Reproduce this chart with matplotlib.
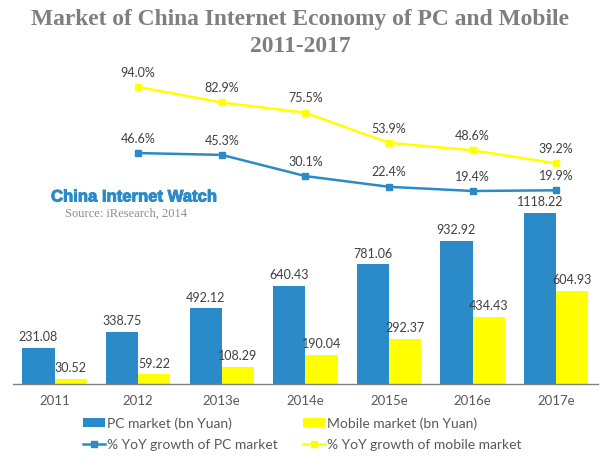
import matplotlib
matplotlib.use("Agg")
import matplotlib.pyplot as plt
import matplotlib.patheffects as pe
import numpy as np

categories = ["2011", "2012", "2013e", "2014e", "2015e", "2016e", "2017e"]
pc_market = [231.08, 338.75, 492.12, 640.43, 781.06, 932.92, 1118.22]
mobile_market = [30.52, 59.22, 108.29, 190.04, 292.37, 434.43, 604.93]
growth_categories = ["2012", "2013e", "2014e", "2015e", "2016e", "2017e"]
pc_growth = [46.6, 45.3, 30.1, 22.4, 19.4, 19.9]
mobile_growth = [94.0, 82.9, 75.5, 53.9, 48.6, 39.2]

BLUE = "#2A8BC8"
YELLOW = "#FFFF00"
FONT = ["Lato", "DejaVu Sans"]
W, H = 600, 466
LABEL_SIZE = 9.0

fig = plt.figure(figsize=(6, 4.66), dpi=100)
left, right, top, base = 12.7, 598, 60, 383.5
ax = fig.add_axes([left / W, (H - base) / H, (right - left) / W, (base - top) / H])
x = np.arange(len(categories))
bw = 0.385
ax.bar(x - bw / 2, pc_market, bw, color=BLUE, label="PC market (bn Yuan)")
ax.bar(x + bw / 2, mobile_market, bw, color=YELLOW, label="Mobile market (bn Yuan)")
ax.set_xlim(-0.5, 6.5)
ax.set_ylim(0, (base - top) / 0.1525)
ax.set_yticks([])
ax.set_xticks(x, categories, family=FONT, fontsize=9.5, color="#595959")
ax.tick_params(axis="x", length=0, pad=8)
for s in ["top", "left", "right"]:
    ax.spines[s].set_visible(False)
ax.spines["bottom"].set_color("#808080")
ax.spines["bottom"].set_linewidth(1.0)

for xi, v in zip(x, pc_market):
    ax.annotate(f"{v:.2f}", (xi - bw / 2, v), xytext=(0, 3.5), textcoords="offset points",
                ha="center", va="bottom", family=FONT, fontsize=LABEL_SIZE, color="#404040")
for xi, v in zip(x, mobile_market):
    ax.annotate(f"{v:.2f}", (xi + bw / 2, v), xytext=(0, 3.5), textcoords="offset points",
                ha="center", va="bottom", family=FONT, fontsize=LABEL_SIZE, color="#404040")

ax2 = ax.twinx()
px = 1.394
ax2.set_ylim(94 - (base - 87) / px, 94 + (87 - top) / px)
ax2.set_yticks([])
for s in ax2.spines.values():
    s.set_visible(False)
gx = [categories.index(c) for c in growth_categories]
ax2.plot(gx, pc_growth, color=BLUE, lw=1.8, marker="s", ms=4.5, label="% YoY growth of PC market")
ax2.plot(gx, mobile_growth, color=YELLOW, lw=1.8, marker="s", ms=4.5, label="% YoY growth of mobile market")
for series in (pc_growth, mobile_growth):
    for xi, v in zip(gx, series):
        ax2.annotate(f"{v:.1f}%", (xi, v), xytext=(0, 6), textcoords="offset points",
                     ha="center", va="bottom", family=FONT, fontsize=LABEL_SIZE, color="#404040")

fig.text(0.5, 1 - 20 / H, "Market of China Internet Economy of PC and Mobile", ha="center", va="center",
         family="Liberation Serif", weight="bold", fontsize=16.9, color="#7F7F7F")
fig.text(0.5, 1 - 46 / H, "2011-2017", ha="center", va="center",
         family="Liberation Serif", weight="bold", fontsize=16.9, color="#7F7F7F")
fig.text(51 / W, 1 - 197 / H, "China Internet Watch", ha="left", va="center",
         family="Liberation Sans", weight="bold", fontsize=12.0, color=BLUE,
         path_effects=[pe.withStroke(linewidth=0.7, foreground=BLUE)])
fig.text(65 / W, 1 - 213.5 / H, "Source: iResearch, 2014", ha="left", va="center",
         family="Liberation Serif", fontsize=9, color="#8C8C8C")

h1, l1 = ax.get_legend_handles_labels()
h2, l2 = ax2.get_legend_handles_labels()
handles = [h1[0], h2[0], h1[1], h2[1]]
labels = [l1[0], l2[0], l1[1], l2[1]]
leg = fig.legend(handles, labels, ncol=2, loc="upper left", bbox_to_anchor=(83 / W, 1 - 417 / H),
                 frameon=False, prop={"family": "Lato", "size": 10}, labelcolor="#595959",
                 handlelength=1.55, handleheight=0.55, handletextpad=0.2, columnspacing=1.8,
                 labelspacing=0.68, borderpad=0, borderaxespad=0)
fig.savefig("out.png", dpi=100)
